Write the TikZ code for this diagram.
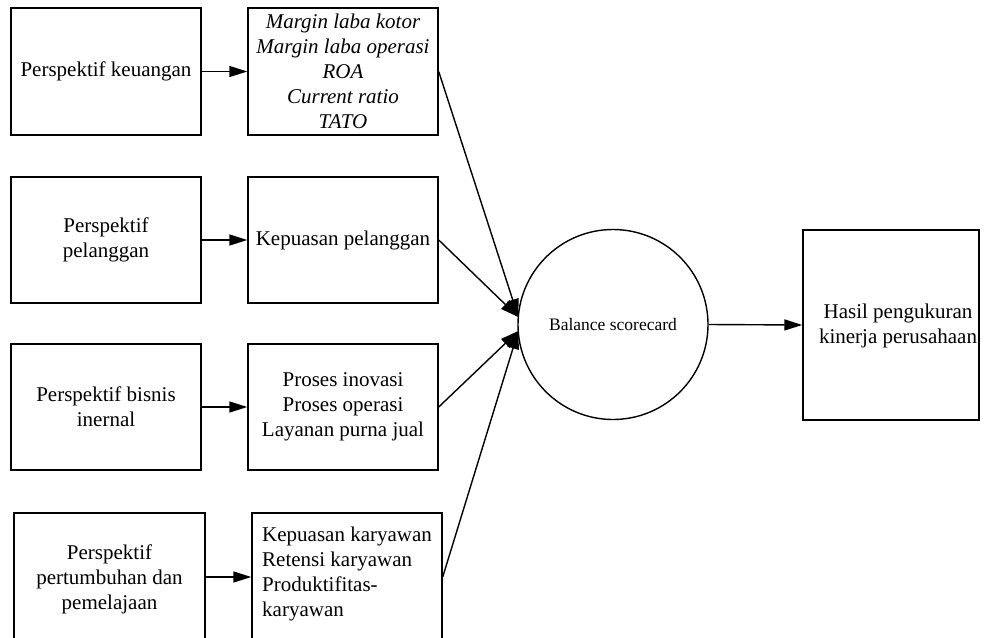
\documentclass[tikz,border=0pt]{standalone}
\usepackage{fontspec}
\setmainfont{Liberation Serif}
\usetikzlibrary{arrows.meta}
\begin{document}
\begin{tikzpicture}[x=1pt,y=-1pt,
  box/.style={draw, line width=1.4pt, minimum width=190pt, minimum height=127pt, inner sep=0pt, align=center, font=\fontsize{21}{25}\selectfont},
  txt/.style={inner sep=0pt, font=\fontsize{21}{25}\selectfont},
  conn/.style={line width=1.4pt, -{Triangle[length=18pt,width=11pt]}},
  link/.style={line width=1.4pt, -{Triangle[length=18pt,width=12pt]}},
 ]
\useasboundingbox (0,0) rectangle (984,637);
% left column
\node[box] (A1) at (106,71.5) {Perspektif keuangan};
\node[box, minimum height=126pt] (A2) at (106,240) {Perspektif\\pelanggan};
\node[box, minimum height=126pt] (A3) at (106,407) {Perspektif bisnis\\inernal};
\node[box, minimum height=132pt, minimum width=191pt] (A4) at (109.5,579) {Perspektif\\pertumbuhan dan\\pemelajaan};
% middle column
\node[box] (B1) at (343,71.5) {\itshape Margin laba kotor\\\itshape Margin laba operasi\\\itshape ROA\\\itshape Current ratio\\\itshape TATO};
\node[box, minimum height=126pt] (B2) at (343,240) {Kepuasan pelanggan};
\node[box, minimum height=126pt] (B3) at (343,407) {Proses inovasi\\Proses operasi\\Layanan purna jual};
\node[box, minimum height=132pt] (B4) at (347,579) {};
\node[txt, anchor=west, align=left] (B4t) at (262,574) {Kepuasan karyawan\\Retensi karyawan\\Produktifitas-\\karyawan};
% circle and result
\node[draw, circle, line width=1.4pt, minimum size=190pt, inner sep=0pt, font=\fontsize{17.5}{21}\selectfont] (C) at (613,324.5) {Balance scorecard};
\node[box, minimum width=176pt, minimum height=190pt] (R) at (891,325) {};
\node[txt, align=center] (Rt) at (898,326) {Hasil pengukuran\\kinerja perusahaan};
\coordinate (cA) at (518.3,317);
\coordinate (cB) at (518.3,331);
% connectors
\draw[conn] (A1.east) -- (B1.west);
\draw[conn] (A2.east) -- (B2.west);
\draw[conn] (A3.east) -- (B3.west);
\draw[conn] (A4.east |- 0,577) -- (B4.west |- 0,577);
\draw[link] (B1.east) -- (cA);
\draw[link] (B2.east) -- (cA);
\draw[link] (B3.east) -- (cB);
\draw[link] (B4.east |- 0,577) -- (cB);
\draw[conn] (C.east) -- (R.west);
\end{tikzpicture}
\end{document}
